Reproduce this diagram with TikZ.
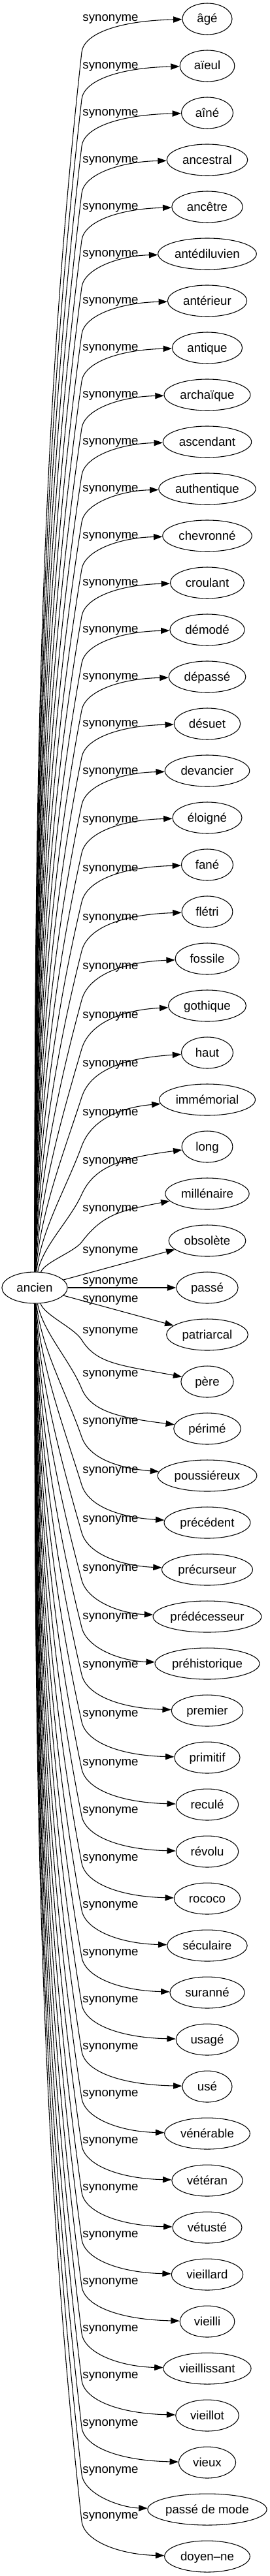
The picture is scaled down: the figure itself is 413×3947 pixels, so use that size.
\documentclass[tikz,border=0pt]{standalone}
\usepackage{fontspec}
\setmainfont{Liberation Sans}
\usetikzlibrary{arrows.meta,shapes.geometric}

\newcommand\gwbox[1]{\setbox0\hbox{#1}\makebox[\dimexpr0.799\wd0+20.15pt\relax]{#1}}

\tikzset{
  word/.style={draw, ellipse, line width=0.8pt, inner xsep=0pt, inner ysep=0pt,
    minimum height=36pt, minimum width=57pt, text height=12pt, text depth=3pt,
    font=\fontsize{14}{16}\selectfont},
  lab/.style={anchor=base, inner sep=0pt, font=\fontsize{14}{16}\selectfont},
  syn/.style={draw, line width=0.8pt, -{Triangle[length=10pt,width=7pt]}},
}

\begin{document}
\begin{tikzpicture}[x=0.75pt, y=-0.75pt]
\useasboundingbox (0,0) rectangle (413,3947);
\node[word] (anc) at (53,1973) {\gwbox{ancien}};
\foreach \ii/\wrd/\ly in {
 1/âgé/28, 2/aïeul/100, 3/aîné/172, 4/ancestral/244, 5/ancêtre/316,
 6/antédiluvien/388, 7/antérieur/460, 8/antique/532, 9/archaïque/604,
 10/ascendant/676, 11/authentique/748, 12/chevronné/820, 13/croulant/892,
 14/démodé/964, 15/dépassé/1036, 16/désuet/1108, 17/devancier/1181,
 18/éloigné/1255, 19/fané/1330, 20/flétri/1405, 21/fossile/1480,
 22/gothique/1555, 23/haut/1629, 24/immémorial/1704, 25/long/1778,
 26/millénaire/1851, 27/obsolète/1915, 28/passé/1962, 29/patriarcal/1990,
 30/père/2038, 31/périmé/2104, 32/poussiéreux/2177, 33/précédent/2252,
 34/précurseur/2327, 35/prédécesseur/2402, 36/préhistorique/2476,
 37/premier/2550, 38/primitif/2625, 39/reculé/2700, 40/révolu/2773,
 41/rococo/2846, 42/séculaire/2918, 43/suranné/2991, 44/usagé/3063,
 45/usé/3135, 46/vénérable/3207, 47/vétéran/3279, 48/vétusté/3351,
 49/vieillard/3423, 50/vieilli/3495, 51/vieillissant/3567, 52/vieillot/3639,
 53/vieux/3712, 54/passé de mode/3784, 55/doyen–ne/3854}
{
  \pgfmathsetmacro\qyt{29+72*(\ii-1)}
  \node[word] (n\ii) at (317,\qyt) {\gwbox{\wrd}};
  \node[lab] (l\ii) at (169,\ly+5) {synonyme};
  \ifnum\ii<27
    \pgfmathsetmacro\qd{27-\ii}
    \pgfmathsetmacro\qxs{53+0.25*(26-\qd)+14*exp(-\qd/2.5)}
    \pgfmathsetmacro\qf{0.9*exp(-\qd/8)}
    \pgfmathsetmacro\qBy{\ly+52}
    \pgfmathsetmacro\qD{1949-\qBy}
    \pgfmathsetmacro\qcay{1949-\qD/3}
    \pgfmathsetmacro\qcbx{\qxs+\qf*(125-\qxs)}
    \pgfmathsetmacro\qcby{1949-2*\qD/3}
    \pgfmathsetmacro\qtx{(125-\qcbx)/(\qcby-\qBy)}
    \pgfmathsetmacro\qh{\qBy-\qyt}
    \pgfmathsetmacro\qk{0.58*\qh}
    \pgfmathsetmacro\qccx{125+\qk*\qtx}
    \pgfmathsetmacro\qccy{\qBy-\qk}
    \pgfmathsetmacro\qcdy{\qyt+0.05*\qh+22*exp(-(\qd-1)/2)}
    \coordinate (b\ii) at (125,\qBy);
    \draw[syn] (anc) .. controls (\qxs,\qcay) and (\qcbx,\qcby) .. (b\ii)
      .. controls (\qccx,\qccy) and (185,\qcdy) .. (n\ii);
  \else
    \ifnum\ii>29
      \pgfmathsetmacro\qd{\ii-29}
      \pgfmathsetmacro\qxs{53+0.25*(26-\qd)+14*exp(-\qd/2.5)}
      \pgfmathsetmacro\qf{0.9*exp(-\qd/8)}
      \pgfmathsetmacro\qh{54+10*exp(-(\qd-1)/3)}
      \pgfmathsetmacro\qBy{\qyt-\qh}
      \pgfmathsetmacro\qD{\qBy-1997}
      \pgfmathsetmacro\qcay{1997+\qD/3}
      \pgfmathsetmacro\qcbx{\qxs+\qf*(125-\qxs)}
      \pgfmathsetmacro\qcby{1997+2*\qD/3}
      \pgfmathsetmacro\qtx{(125-\qcbx)/(\qBy-\qcby)}
      \pgfmathsetmacro\qk{0.58*\qh}
      \pgfmathsetmacro\qccx{125+\qk*\qtx}
      \pgfmathsetmacro\qccy{\qBy+\qk}
      \pgfmathsetmacro\qcdy{\qyt-0.05*\qh-22*exp(-(\qd-1)/2)}
      \coordinate (b\ii) at (125,\qBy);
      \draw[syn] (anc) .. controls (\qxs,\qcay) and (\qcbx,\qcby) .. (b\ii)
        .. controls (\qccx,\qccy) and (185,\qcdy) .. (n\ii);
    \else
      \draw[syn] (anc) -- (n\ii);
    \fi
  \fi
}
\end{tikzpicture}
\end{document}
